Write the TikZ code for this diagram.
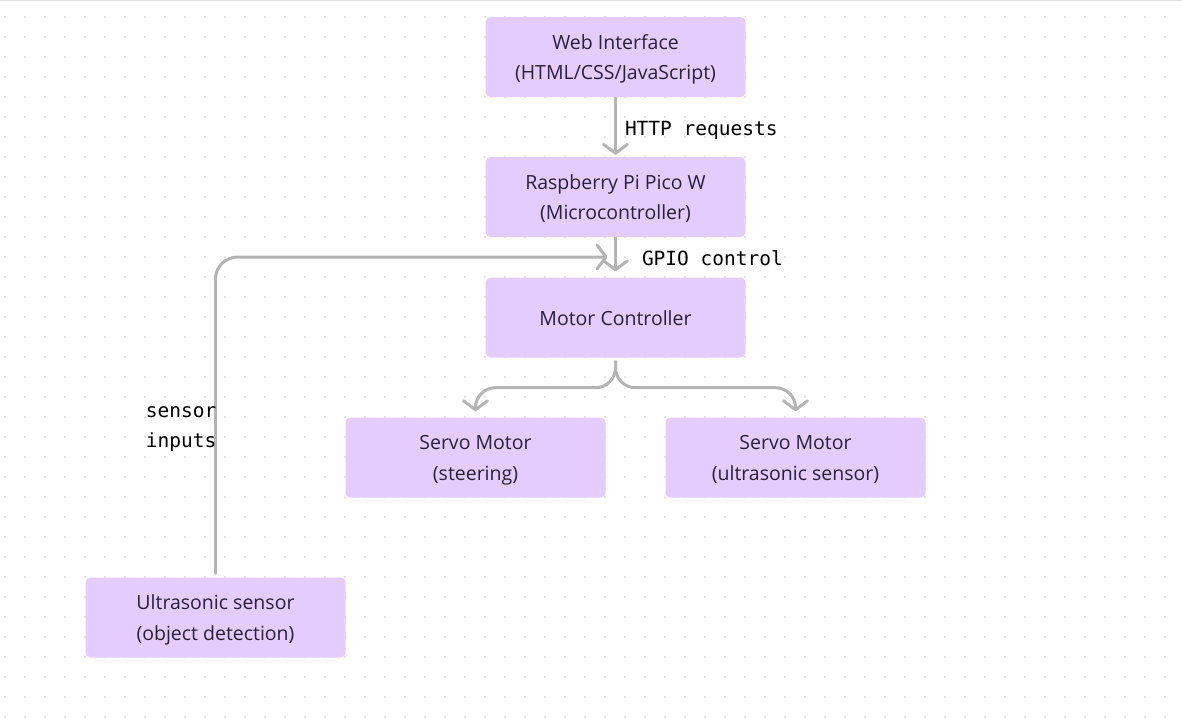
\documentclass[tikz,border=0pt]{standalone}
\usepackage{fontspec}
\setmainfont{Open Sans}
\newfontfamily\monofont{DejaVu Sans Mono}
\usetikzlibrary{arrows.meta,positioning}
\definecolor{boxfill}{HTML}{E4CCFF}
\definecolor{boxtext}{HTML}{2B2136}
\definecolor{wire}{HTML}{B4B4B4}
\definecolor{griddot}{HTML}{D9D9D9}
\newcommand{\lnup}{\rule{0pt}{20.5pt}}
\newcommand{\lndn}{\rule[-5.5pt]{0pt}{5.5pt}}
\begin{document}
\begin{tikzpicture}[x=1pt,y=-1pt,
    block/.style={fill=boxfill,rounded corners=5pt,minimum width=260pt,minimum height=80pt,
        align=center,text=boxtext,font=\fontsize{19.5}{30.5}\selectfont},
    link/.style={draw=wire,line width=3pt,-{Straight Barb[length=9pt,width=24pt,line cap=round,line join=round]}},
    tag/.style={inner sep=0pt,align=left,text=black,font=\monofont\fontsize{19.5}{30}\selectfont}]
                \useasboundingbox (0,0) rectangle (1182,717);
                \foreach \x in {5,25,...,1185}
                    \foreach \y in {17,37,...,717}
                        \fill[griddot] (\x,\y) circle (1.1pt);
                \draw[black!12,line width=1pt] (0,0.5) -- (1182,0.5);
                \node[block] (web) at (615.5,57) {\lnup Web Interface\\(HTML/CSS/JavaScript)\lndn};
                \node[block] (pico) at (615.5,197) {\lnup Raspberry Pi Pico W\\(Microcontroller)\lndn};
                \node[block] (motor) at (615.5,317.5) {\lnup Motor Controller\lndn};
                \node[block] (steer) at (475.5,457.5) {\lnup Servo Motor\\(steering)\lndn};
                \node[block] (sonar) at (795.5,457.5) {\lnup Servo Motor\\(ultrasonic sensor)\lndn};
                \node[block] (sensor) at (215.5,617.5) {\lnup Ultrasonic sensor\\(object detection)\lndn};
                \coordinate (join) at (615.5,257);
                \draw[link,shorten >=2pt] (web) -- (pico) node[tag,midway,right=8pt,yshift=-3pt] (http) {HTTP requests};
                \draw[link,shorten >=6pt] (pico) -- (motor) node[tag,midway,right=25pt,yshift=-1pt] (gpio) {GPIO control};
                \draw[link,rounded corners=22pt,shorten <=3pt,shorten >=8pt] (sensor) |- (join);
                \node[tag,anchor=east] (inputs) at (216.5,429) {sensor\\inputs};
                \draw[link,rounded corners=20pt,shorten <=3pt,shorten >=6pt] (motor.south) -- ++(0,30) -| (steer.north);
                \draw[link,rounded corners=20pt,shorten <=3pt,shorten >=6pt] (motor.south) -- ++(0,30) -| (sonar.north);
            \end{tikzpicture}
\end{document}
